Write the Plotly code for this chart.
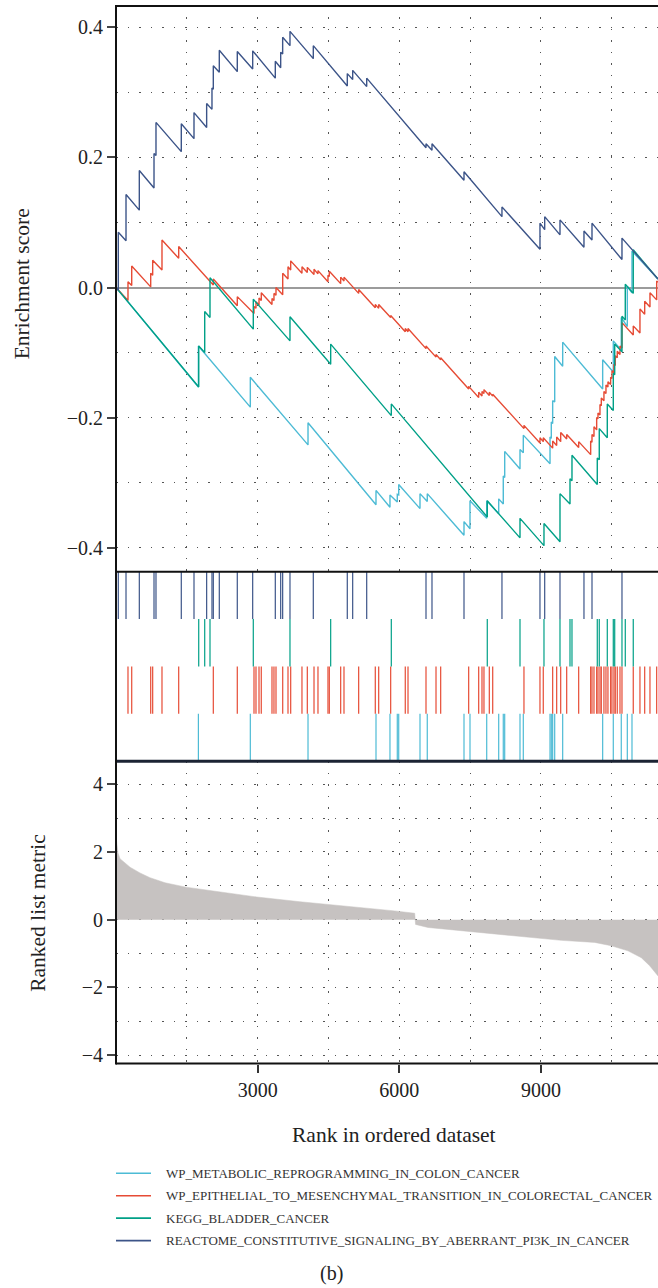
import plotly.graph_objects as go

FIG_W, FIG_H = 658, 1288
N_RANKED = 11480

set_names = [
    "WP_METABOLIC_REPROGRAMMING_IN_COLON_CANCER",
    "WP_EPITHELIAL_TO_MESENCHYMAL_TRANSITION_IN_COLORECTAL_CANCER",
    "KEGG_BLADDER_CANCER",
    "REACTOME_CONSTITUTIVE_SIGNALING_BY_ABERRANT_PI3K_IN_CANCER",
]
set_colors = ["#4DBBD5", "#E64B35", "#00A087", "#3C5488"]

# Hit ranks of each gene set, with the running enrichment score
# just before and just after every hit.
metab_hits = [1745, 2845, 4067, 5507, 5803, 5958, 5988, 6439, 6593, 7371, 7498, 7852,
              8106, 8203, 8233, 8557, 8627, 9193, 9220, 9249, 9292, 9461, 10308, 10533,
              10702, 10830, 10929]
metab_before = [-0.153, -0.184, -0.242, -0.334, -0.338, -0.330, -0.319, -0.340, -0.329,
                -0.381, -0.371, -0.355, -0.348, -0.333, -0.292, -0.279, -0.254, -0.271,
                -0.232, -0.209, -0.176, -0.121, -0.156, -0.130, -0.096, -0.060, -0.008]
metab_after = [-0.090, -0.138, -0.208, -0.312, -0.319, -0.318, -0.303, -0.317, -0.317,
               -0.360, -0.328, -0.328, -0.325, -0.290, -0.252, -0.249, -0.227, -0.230,
               -0.207, -0.174, -0.106, -0.084, -0.111, -0.082, -0.046, 0.002, 0.056]
metab_end = 0.013

emt_hits = [254, 333, 735, 777, 974, 1328, 2061, 2569, 2923, 2965, 3029, 3077, 3304, 3346,
            3389, 3531, 3643, 3700, 3939, 4052, 4194, 4278, 4490, 4518, 4759, 4829, 5140,
            5492, 5564, 5818, 6127, 6185, 6566, 6778, 6877, 7470, 7682, 7752, 7794, 7907,
            7979, 8641, 8980, 9050, 9249, 9334, 9419, 9546, 9800, 10054, 10082, 10124,
            10181, 10209, 10251, 10279, 10335, 10378, 10420, 10477, 10505, 10547, 10575,
            10617, 10675, 10717, 10956, 11098, 11198, 11310, 11452]
emt_before = [-0.020, 0.003, 0.001, 0.019, 0.027, 0.045, 0.004, -0.028, -0.040, -0.032,
              -0.027, -0.020, -0.026, -0.020, -0.012, -0.011, 0.013, 0.027, 0.022, 0.023,
              0.020, 0.021, 0.009, 0.017, 0.006, 0.010, -0.009, -0.031, -0.032, -0.046,
              -0.068, -0.068, -0.094, -0.107, -0.111, -0.156, -0.169, -0.167, -0.163,
              -0.166, -0.167, -0.217, -0.239, -0.237, -0.247, -0.243, -0.237, -0.233,
              -0.246, -0.257, -0.238, -0.229, -0.219, -0.202, -0.196, -0.182, -0.174,
              -0.163, -0.153, -0.149, -0.140, -0.131, -0.120, -0.108, -0.103, -0.093,
              -0.073, -0.070, -0.041, -0.030, -0.019]
emt_after = [0.009, 0.033, 0.022, 0.042, 0.073, 0.063, 0.013, -0.014, -0.029, -0.022,
             -0.016, -0.008, -0.017, -0.009, 0.000, 0.022, 0.032, 0.041, 0.032, 0.031,
             0.028, 0.026, 0.019, 0.025, 0.016, 0.016, -0.003, -0.026, -0.026, -0.043,
             -0.063, -0.063, -0.090, -0.103, -0.108, -0.152, -0.161, -0.160, -0.157,
             -0.161, -0.164, -0.212, -0.231, -0.231, -0.236, -0.230, -0.223, -0.226,
             -0.237, -0.236, -0.226, -0.214, -0.200, -0.193, -0.180, -0.170, -0.160,
             -0.150, -0.145, -0.138, -0.128, -0.118, -0.105, -0.098, -0.090, -0.054,
             -0.059, -0.033, -0.021, -0.008, 0.010]
emt_end = 0.008

kegg_hits = [1752, 1879, 1991, 2908, 3685, 4547, 5831, 7864, 8557, 9065, 9404, 9616, 9658,
             10194, 10236, 10406, 10533, 10563, 10717, 10787, 10956]
kegg_before = [-0.153, -0.100, -0.046, -0.064, -0.082, -0.118, -0.197, -0.353, -0.385,
               -0.397, -0.391, -0.333, -0.297, -0.303, -0.265, -0.231, -0.189, -0.134,
               -0.099, -0.050, -0.009]
kegg_after = [-0.090, -0.037, 0.015, -0.018, -0.045, -0.087, -0.179, -0.328, -0.355,
              -0.363, -0.317, -0.294, -0.258, -0.262, -0.217, -0.179, -0.132, -0.087,
              -0.044, 0.005, 0.058]
kegg_end = 0.013

pi3k_hits = [49, 212, 494, 805, 847, 1383, 1652, 1920, 2033, 2061, 2188, 2569, 2895, 3374,
             3488, 3530, 3685, 4179, 4899, 5013, 5310, 6566, 6693, 7371, 8175, 8980, 9080,
             9404, 9912, 10082, 10717]
pi3k_before = [-0.004, 0.072, 0.119, 0.153, 0.203, 0.209, 0.229, 0.246, 0.274, 0.305,
               0.331, 0.332, 0.336, 0.322, 0.338, 0.359, 0.372, 0.352, 0.310, 0.320,
               0.309, 0.215, 0.211, 0.165, 0.109, 0.059, 0.089, 0.081, 0.062, 0.073, 0.043]
pi3k_after = [0.085, 0.143, 0.180, 0.206, 0.254, 0.252, 0.269, 0.283, 0.307, 0.341,
              0.365, 0.363, 0.364, 0.348, 0.362, 0.385, 0.394, 0.372, 0.329, 0.334,
              0.322, 0.221, 0.221, 0.178, 0.124, 0.099, 0.109, 0.104, 0.087, 0.099, 0.076]
pi3k_end = 0.013

# Ranked list metric (signal-to-noise) along the ordered gene list
metric_rank = [0, 21, 42, 85, 191, 297, 508, 720, 1038, 1483, 2097, 2980, 3897, 4533,
               5196, 5903, 6327, 6345, 6608, 7314, 8021, 8726, 9431, 10139, 10491, 10844,
               11126, 11304, 11480]
metric_value = [2.47, 2.2, 1.97, 1.8, 1.68, 1.55, 1.38, 1.24, 1.09, 0.96, 0.84, 0.67,
                0.53, 0.45, 0.35, 0.26, 0.19, -0.14, -0.23, -0.33, -0.43, -0.53, -0.61,
                -0.67, -0.77, -0.92, -1.12, -1.36, -1.66]

es_tick_vals = [-0.4, -0.2, 0.0, 0.2, 0.4]
metric_tick_vals = [-4, -2, 0, 2, 4]
rank_tick_vals = [3000, 6000, 9000]
rank_tick_text = ["3000", "6000", "9000"]

gene_sets = [
    (metab_hits, metab_before, metab_after, metab_end),
    (emt_hits, emt_before, emt_after, emt_end),
    (kegg_hits, kegg_before, kegg_after, kegg_end),
    (pi3k_hits, pi3k_before, pi3k_after, pi3k_end),
]
# row of each set in the hit strip (0 = bottom row)
hit_rows = [0, 1, 2, 3]


def px_x(p):
    return p / FIG_W


def px_y(p):
    return 1 - p / FIG_H


def running_path(hits, before, after, end):
    xs, ys = [0], [0.0]
    for h, b, a in zip(hits, before, after):
        xs += [h, h]
        ys += [b, a]
    xs.append(N_RANKED)
    ys.append(end)
    return xs, ys


fig = go.Figure()

# running enrichment score curves
for (hits, before, after, end), name, color in zip(gene_sets, set_names, set_colors):
    xs, ys = running_path(hits, before, after, end)
    fig.add_trace(go.Scatter(x=xs, y=ys, mode="lines", name=name,
                             line=dict(color=color, width=1.4),
                             xaxis="x", yaxis="y", showlegend=False))

# hit strip
for (hits, _, _, _), row, color in zip(gene_sets, hit_rows, set_colors):
    xs, ys = [], []
    for h in hits:
        xs += [h, h, None]
        ys += [row, row + 1, None]
    fig.add_trace(go.Scatter(x=xs, y=ys, mode="lines", line=dict(color=color, width=1.2),
                             xaxis="x2", yaxis="y2", showlegend=False, hoverinfo="skip"))

# ranked list metric
fig.add_trace(go.Scatter(x=metric_rank, y=metric_value, mode="lines", fill="tozeroy",
                         fillcolor="#C6C2C1", line=dict(color="#C6C2C1", width=0.5),
                         xaxis="x3", yaxis="y3", showlegend=False))

serif = "Liberation Serif, DejaVu Serif, Times New Roman, serif"
tick_font = dict(family=serif, size=20, color="#222222")
dot_grid = dict(gridcolor="#555555", gridwidth=1.4, griddash="1.5px,10px")
x_dom = [px_x(116), 1.0]
x_rng = [0, N_RANKED]

fig.update_layout(
    width=FIG_W, height=FIG_H,
    margin=dict(l=0, r=0, t=0, b=0),
    paper_bgcolor="white", plot_bgcolor="white",
    showlegend=False,
    font=dict(family=serif, color="#222222"),
    xaxis=dict(domain=x_dom, range=x_rng, anchor="y", showticklabels=False, ticks="",
               showgrid=True, tick0=0, dtick=1500, zeroline=False, **dot_grid),
    yaxis=dict(domain=[px_y(573), px_y(6)], range=[-0.437, 0.433], anchor="x",
               tickvals=es_tick_vals, tickformat=".1f", ticks="outside", ticklen=8,
               tickwidth=1.5, tickcolor="#444444", tickfont=tick_font,
               showgrid=True, **dot_grid,
               minor=dict(tick0=0, dtick=0.1, showgrid=True, ticks="", **dot_grid),
               zeroline=True, zerolinecolor="#9b9b9b", zerolinewidth=1.8),
    xaxis2=dict(domain=x_dom, range=x_rng, anchor="y2", visible=False),
    yaxis2=dict(domain=[px_y(763), px_y(573)], range=[0, 4], anchor="x2", visible=False),
    xaxis3=dict(domain=x_dom, range=x_rng, anchor="y3", tickvals=rank_tick_vals,
                ticktext=rank_tick_text, ticks="outside", ticklen=8, tickwidth=1.5,
                tickcolor="#333333", tickfont=tick_font, showgrid=True, zeroline=False,
                **dot_grid,
                minor=dict(tick0=0, dtick=1500, showgrid=True, ticks="", **dot_grid)),
    yaxis3=dict(domain=[px_y(1066), px_y(763)], range=[-4.244, 4.676], anchor="x3",
                tickvals=metric_tick_vals, ticks="outside", ticklen=8, tickwidth=1.5,
                tickcolor="#444444", tickfont=tick_font, showgrid=True, zeroline=False,
                **dot_grid,
                minor=dict(tick0=0, dtick=1, showgrid=True, ticks="", **dot_grid)),
)

# panel frame lines
frame = [
    (116, 6, FIG_W, 6, 2, "#111111"),
    (116, 573, FIG_W, 573, 2, "#111111"),
    (116, 763, FIG_W, 763, 3, "#1b2333"),
    (116, 1066, FIG_W, 1066, 2, "#111111"),
    (116, 5, 116, 1067, 2, "#111111"),
]
for x0, y0, x1, y1, w, c in frame:
    fig.add_shape(type="line", xref="paper", yref="paper",
                  x0=px_x(x0), y0=px_y(y0), x1=px_x(x1), y1=px_y(y1),
                  line=dict(color=c, width=w))

title_font = dict(family=serif, size=21.5, color="#222222")
fig.add_annotation(text="Enrichment score", xref="paper", yref="paper",
                   x=px_x(22), y=px_y(285), textangle=-90, showarrow=False,
                   font=title_font, xanchor="center", yanchor="middle")
fig.add_annotation(text="Ranked list metric", xref="paper", yref="paper",
                   x=px_x(38), y=px_y(915), textangle=-90, showarrow=False,
                   font=title_font, xanchor="center", yanchor="middle")
fig.add_annotation(text="Rank in ordered dataset", xref="paper", yref="paper",
                   x=px_x(394), y=px_y(1138), showarrow=False,
                   font=title_font, xanchor="center", yanchor="middle")

# legend
legend_rows = [1176, 1198.5, 1221, 1243.5]
for name, color, yrow in zip(set_names, set_colors, legend_rows):
    fig.add_shape(type="line", xref="paper", yref="paper",
                  x0=px_x(116), x1=px_x(151), y0=px_y(yrow), y1=px_y(yrow),
                  line=dict(color=color, width=1.6))
    fig.add_annotation(text=name, xref="paper", yref="paper",
                       x=px_x(164), y=px_y(yrow), showarrow=False,
                       font=dict(family=serif, size=13, color="#333333"),
                       xanchor="left", yanchor="middle")

fig.add_annotation(text="(b)", xref="paper", yref="paper", x=px_x(331), y=px_y(1276),
                   showarrow=False, font=dict(family=serif, size=20, color="#222222"),
                   xanchor="center", yanchor="middle")

fig.write_html("out.html")
